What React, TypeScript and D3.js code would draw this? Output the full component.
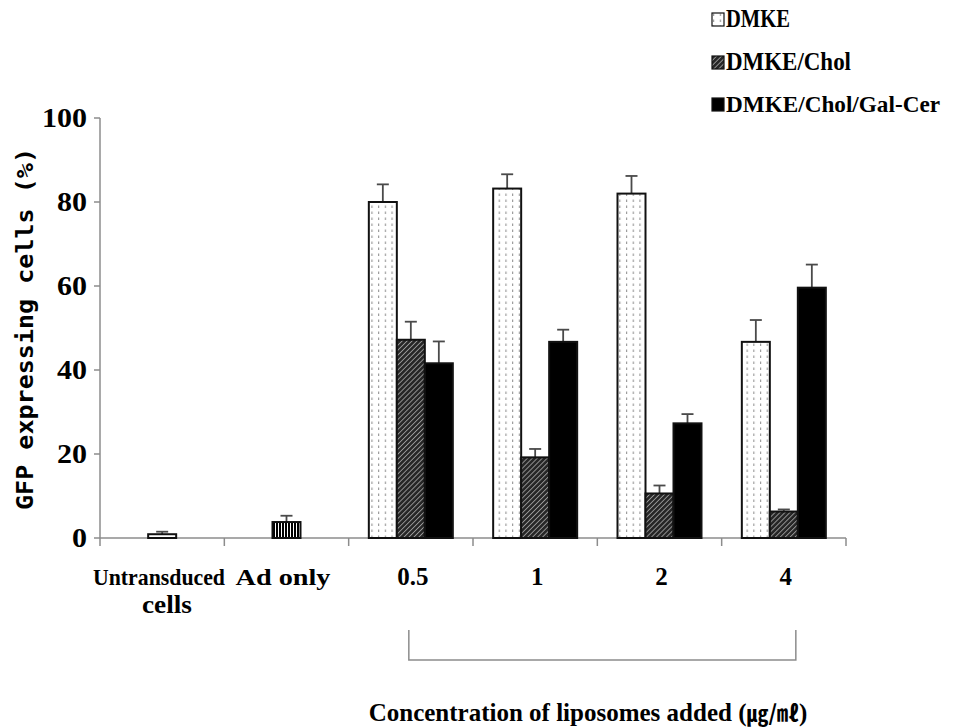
import * as d3 from "d3";

const categories = ["Untransduced", "Ad only", "0.5", "1", "2", "4"];
const controlValues = [0.9, 3.8];
const controlErr = [0.6, 1.5];
const seriesNames = ["DMKE", "DMKE/Chol", "DMKE/Chol/Gal-Cer"];
const dmke = [80, 83.2, 82, 46.7];
const dmkeErr = [4.2, 3.4, 4.2, 5.2];
const chol = [47.2, 19.2, 10.6, 6.3];
const cholErr = [4.3, 2, 1.9, 0.5];
const galCer = [41.6, 46.7, 27.3, 59.6];
const galCerErr = [5.2, 2.9, 2.2, 5.5];
const yTicks = [0, 20, 40, 60, 80, 100];

const W = 953;
const H = 728;
const serif = "'Liberation Serif', 'Times New Roman', serif";

export default function App() {
  const x = d3.scaleBand().domain(categories).range([100, 846]);
  const y = d3.scaleLinear().domain([0, 100]).range([538, 118]);
  const barW = 28;
  const x1 = d3
    .scaleBand()
    .domain(seriesNames)
    .range([-barW * 1.5, barW * 1.5]);

  const groups = categories.slice(2).map((c, i) => ({
    cat: c,
    bars: [
      { name: seriesNames[0], v: dmke[i], e: dmkeErr[i], fill: "url(#dots)" },
      { name: seriesNames[1], v: chol[i], e: cholErr[i], fill: "url(#hatch)" },
      { name: seriesNames[2], v: galCer[i], e: galCerErr[i], fill: "#000" },
    ],
  }));
  const controls = categories.slice(0, 2).map((c, i) => ({
    cat: c,
    v: controlValues[i],
    e: controlErr[i],
    fill: i === 0 ? "#fff" : "url(#vstripes)",
  }));

  const center = (c: string) => (x(c) ?? 0) + x.bandwidth() / 2;
  const boundaries = d3.range(categories.length + 1).map((i) => 100 + i * x.bandwidth());

  const errBar = (cx: number, v: number, e: number, key: string) => (
    <g key={key} stroke="#4a4a4a" strokeWidth={1.8}>
      <line x1={cx} x2={cx} y1={y(v)} y2={y(v + e)} />
      <line x1={cx - 6} x2={cx + 6} y1={y(v + e)} y2={y(v + e)} />
    </g>
  );

  const legendFills = ["url(#dots)", "url(#hatch)", "#000"];
  const legendY = [27, 70, 112];

  return (
    <div style={{ position: "absolute", left: 0, top: 0 }}>
      <svg width={W} height={H} style={{ display: "block", background: "#fff" }}>
        <defs>
          <pattern id="dots" width={6.7} height={6} patternUnits="userSpaceOnUse">
            <rect width={6.7} height={6} fill="#fff" />
            <rect x={3} y={1.5} width={1} height={2.5} fill="#8a8a8a" />
          </pattern>
          <pattern id="hatch" width={3.5} height={3.5} patternUnits="userSpaceOnUse" patternTransform="rotate(45)">
            <rect width={3.5} height={3.5} fill="#262626" />
            <rect width={0.9} height={3.5} fill="#9a9a9a" />
          </pattern>
          <pattern id="vstripes" width={3} height={4} patternUnits="userSpaceOnUse">
            <rect width={3} height={4} fill="#000" />
            <rect x={2} width={1} height={4} fill="#fff" />
          </pattern>
        </defs>

        {/* y axis */}
        <line x1={100} x2={100} y1={118} y2={538} stroke="#8c8c8c" strokeWidth={1.5} />
        {yTicks.map((t) => (
          <g key={t}>
            <line x1={94} x2={100} y1={y(t)} y2={y(t)} stroke="#8c8c8c" strokeWidth={1.5} />
            <text
              x={87}
              y={y(t) + 9}
              textAnchor="end"
              fontFamily={serif}
              fontWeight="bold"
              fontSize={27}
              textLength={String(t).length * 15}
              lengthAdjust="spacingAndGlyphs"
            >
              {t}
            </text>
          </g>
        ))}
        <text
          transform="translate(33,329) rotate(-90)"
          textAnchor="middle"
          fontFamily="'DejaVu Sans Mono', monospace"
          fontSize={23}
          fontWeight="bold"
          textLength={362}
          lengthAdjust="spacingAndGlyphs"
        >
          GFP expressing cells (%)
        </text>

        {/* x axis */}
        <line x1={100} x2={846} y1={538} y2={538} stroke="#8c8c8c" strokeWidth={1.5} />
        {boundaries.map((b, i) => (
          <line key={i} x1={b} x2={b} y1={538} y2={546} stroke="#8c8c8c" strokeWidth={1.5} />
        ))}

        {/* control bars */}
        {controls.map((d) => {
          const cx = center(d.cat);
          return (
            <g key={d.cat}>
              {errBar(cx, d.v, d.e, "e")}
              <rect
                x={cx - barW / 2}
                y={y(d.v)}
                width={barW}
                height={y(0) - y(d.v)}
                fill={d.fill}
                stroke="#111"
                strokeWidth={2}
              />
            </g>
          );
        })}

        {/* grouped bars */}
        {groups.map((g) => {
          const cx = center(g.cat);
          return (
            <g key={g.cat}>
              {g.bars.map((b) => {
                const bx = cx + (x1(b.name) ?? 0);
                return (
                  <g key={b.name}>
                    {errBar(bx + barW / 2, b.v, b.e, "e")}
                    <rect
                      x={bx}
                      y={y(b.v)}
                      width={barW}
                      height={y(0) - y(b.v)}
                      fill={b.fill}
                      stroke="#111"
                      strokeWidth={2}
                    />
                  </g>
                );
              })}
            </g>
          );
        })}

        {/* x labels */}
        <g fontFamily={serif} fontWeight="bold" fontSize={25}>
          <text x={159} y={585} fontSize={23} textAnchor="middle" textLength={132} lengthAdjust="spacingAndGlyphs">
            Untransduced
          </text>
          <text x={167} y={613} textAnchor="middle" textLength={50} lengthAdjust="spacingAndGlyphs">
            cells
          </text>
          <text x={283} y={585} fontSize={24} textAnchor="middle" textLength={95} lengthAdjust="spacingAndGlyphs">
            Ad only
          </text>
          {categories.slice(2).map((c) => (
            <text key={c} x={center(c) + 2} y={585} textAnchor="middle">
              {c}
            </text>
          ))}
        </g>

        {/* bracket */}
        <path
          d={`M${center("0.5") - 2},630 V660 H${center("4") + 12} V630`}
          fill="none"
          stroke="#8c8c8c"
          strokeWidth={1.5}
        />
        <text
          x={588}
          y={721}
          textAnchor="middle"
          fontFamily={serif}
          fontWeight="bold"
          fontSize={25}
        >
          Concentration of liposomes added (
          <tspan fontFamily="'Noto Sans CJK KR', sans-serif" fontWeight="bold" fontSize={22}>
            ㎍/㎖
          </tspan>
          )
        </text>

        {/* legend */}
        {seriesNames.map((s, i) => (
          <g key={s}>
            <rect
              x={712}
              y={legendY[i] - 14}
              width={12}
              height={13}
              fill={legendFills[i]}
              stroke="#111"
              strokeWidth={1.2}
            />
            <text
              x={726}
              y={legendY[i]}
              fontFamily={serif}
              fontWeight="bold"
              fontSize={[26, 26, 24][i]}
              textLength={[64, 125, 214][i]}
              lengthAdjust="spacingAndGlyphs"
            >
              {s}
            </text>
          </g>
        ))}
      </svg>
    </div>
  );
}
